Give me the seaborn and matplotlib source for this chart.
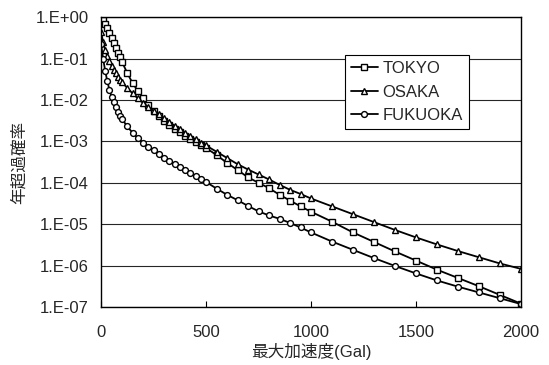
import numpy as np
import pandas as pd
import matplotlib
matplotlib.use("Agg")
import matplotlib.pyplot as plt
import seaborn as sns

# data (log10 of annual exceedance probability)
pga = [0, 10, 20, 30, 40, 50, 60, 70, 80, 90, 100,
       125, 150, 175, 200, 225, 250, 275, 300, 325, 350, 375, 400, 425, 450, 475, 500,
       550, 600, 650, 700, 750, 800, 850, 900, 950, 1000,
       1100, 1200, 1300, 1400, 1500, 1600, 1700, 1800, 1900, 2000]

tokyo_log = [0.00, -0.08, -0.17, -0.27, -0.38, -0.50, -0.62, -0.74, -0.86, -0.97, -1.08,
             -1.35, -1.59, -1.78, -1.96, -2.12, -2.26, -2.39, -2.50, -2.60, -2.70, -2.78, -2.87, -2.94, -3.02, -3.09, -3.16,
             -3.33, -3.52, -3.69, -3.87, -4.00, -4.13, -4.29, -4.43, -4.57, -4.70,
             -4.94, -5.20, -5.43, -5.66, -5.88, -6.10, -6.30, -6.50, -6.71, -6.92]

osaka_log = [-0.35, -0.60, -0.80, -0.95, -1.07, -1.17, -1.27, -1.36, -1.44, -1.51, -1.57,
             -1.71, -1.84, -1.96, -2.07, -2.17, -2.26, -2.35, -2.44, -2.53, -2.62, -2.70, -2.79, -2.87, -2.95, -3.03, -3.10,
             -3.25, -3.40, -3.55, -3.68, -3.80, -3.92, -4.05, -4.17, -4.27, -4.38,
             -4.57, -4.76, -4.95, -5.14, -5.32, -5.49, -5.65, -5.80, -5.95, -6.08]

fukuoka_log = [-0.65, -1.00, -1.30, -1.55, -1.75, -1.92, -2.06, -2.18, -2.29, -2.38, -2.46,
               -2.64, -2.79, -2.92, -3.03, -3.13, -3.22, -3.31, -3.40, -3.48, -3.55, -3.62, -3.70, -3.77, -3.84, -3.91, -3.98,
               -4.14, -4.29, -4.42, -4.56, -4.69, -4.79, -4.87, -4.97, -5.08, -5.20,
               -5.42, -5.62, -5.82, -6.01, -6.19, -6.36, -6.51, -6.65, -6.79, -6.93]

cities = ["TOKYO", "OSAKA", "FUKUOKA"]
city_markers = {"TOKYO": "s", "OSAKA": "^", "FUKUOKA": "o"}

df = pd.concat([
    pd.DataFrame({"pga": pga, "p": 10.0 ** np.array(v), "city": c})
    for c, v in zip(cities, [tokyo_log, osaka_log, fukuoka_log])
])

sns.set_style("ticks")
plt.rcParams["font.family"] = ["Liberation Sans", "Noto Sans CJK JP"]

fig = plt.figure(figsize=(5.49, 3.65), dpi=100)
ax = fig.add_axes([0.184, 0.159, 0.765, 0.794])

sns.lineplot(data=df, x="pga", y="p", hue="city", style="city",
             palette=["black"] * 3, markers=city_markers, dashes=False,
             markerfacecolor="white", markeredgecolor="black",
             markeredgewidth=1.0, markersize=4.2, linewidth=1.3,
             legend=False, ax=ax)

ax.set_yscale("log")
ax.set_ylim(1e-7, 1)
ax.set_xlim(0, 2000)
ax.set_xticks([0, 500, 1000, 1500, 2000])
ax.set_yticks([10.0 ** k for k in range(-7, 1)])
ax.set_yticklabels([f"1.E{k:+03d}" for k in range(-7, 1)])
ax.yaxis.set_minor_locator(matplotlib.ticker.NullLocator())
ax.grid(axis="y", color="0.15", linewidth=0.8)
ax.tick_params(axis="x", direction="in", pad=13, labelsize=12, length=4, color="black")
ax.tick_params(axis="y", direction="in", pad=9, labelsize=12, length=0)
for s in ax.spines.values():
    s.set_color("black")
    s.set_linewidth(1.0)

ax.set_xlabel("最大加速度(Gal)", fontsize=12, labelpad=2)
ax.set_ylabel("年超過確率", fontsize=12, labelpad=6)

leg = ax.legend(ax.lines[:3], cities, loc="upper left",
                bbox_to_anchor=(0.581, 0.868), frameon=True, fancybox=False,
                edgecolor="black", framealpha=1, fontsize=12,
                handlelength=1.6, handletextpad=0.3, borderpad=0.35,
                labelspacing=0.5, borderaxespad=0)
leg.get_frame().set_linewidth(0.8)

fig.savefig("out.png", dpi=100)
